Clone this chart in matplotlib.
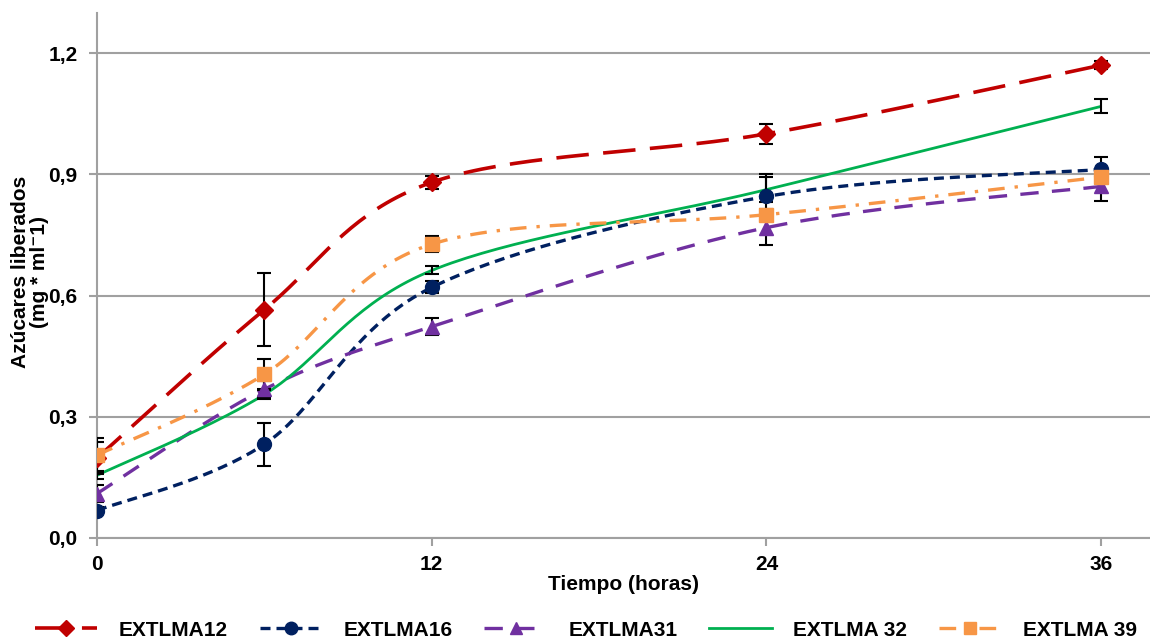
import numpy as np
import matplotlib
matplotlib.use("Agg")
import matplotlib.pyplot as plt
from matplotlib.lines import Line2D

plt.rcParams['font.family'] = ['Liberation Sans', 'DejaVu Sans']

hours = [0, 6, 12, 24, 36]
series_names = ["EXTLMA12", "EXTLMA16", "EXTLMA31", "EXTLMA 32", "EXTLMA 39"]
ext12 = [0.198, 0.565, 0.880, 1.000, 1.170]
ext16 = [0.068, 0.232, 0.620, 0.845, 0.912]
ext31 = [0.110, 0.368, 0.523, 0.768, 0.870]
ext32 = [0.155, 0.355, 0.662, 0.862, 1.068]
ext39 = [0.205, 0.405, 0.727, 0.800, 0.893]
err12 = [0.040, 0.090, 0.016, 0.024, 0.010]
err16 = [0.008, 0.053, 0.015, 0.055, 0.030]
err31 = [0.020, 0.020, 0.021, 0.042, 0.035]
err32 = [0.010, 0.010, 0.010, 0.030, 0.017]
err39 = [0.043, 0.037, 0.020, 0.015, 0.015]
x_ticks = [0, 12, 24, 36]
y_ticks = [0.0, 0.3, 0.6, 0.9, 1.2]
y_ticklabels = ["0,0", "0,3", "0,6", "0,9", "1,2"]

W, H = 1150, 642
fig = plt.figure(figsize=(W / 100, H / 100), dpi=100)
ax = fig.add_axes([97 / W, 1 - 538 / H, (W - 97) / W, (538 - 12.6) / H])
ax.set_xlim(0, 37.75)
ax.set_ylim(0, 1.3)

# pixel scale used for smoothing in screen-like space
sx, sy = 27.9, 404.2


def smooth(xs, ys, n=40):
    P = np.column_stack([np.asarray(xs, float) * sx, np.asarray(ys, float) * sy])
    out = []
    m = len(P)
    for i in range(m - 1):
        p0 = P[i - 1] if i > 0 else P[i]
        p1, p2 = P[i], P[i + 1]
        p3 = P[i + 2] if i + 2 < m else P[i + 1]
        c1 = p1 + (p2 - p0) / 6.0
        c2 = p2 - (p3 - p1) / 6.0
        t = np.linspace(0, 1, n)[:, None]
        seg = ((1 - t) ** 3) * p1 + 3 * ((1 - t) ** 2) * t * c1 + 3 * (1 - t) * t ** 2 * c2 + t ** 3 * p2
        out.append(seg if i == 0 else seg[1:])
    pts = np.vstack(out)
    return pts[:, 0] / sx, pts[:, 1] / sy


styles = [
    dict(color="#C00000", dashes=(9, 4), lw=2.6, marker="D", ms=9),
    dict(color="#002060", dashes=(3, 1.8), lw=2.4, marker="o", ms=10),
    dict(color="#7030A0", dashes=(5.5, 4), lw=2.4, marker="^", ms=10),
    dict(color="#00B050", dashes=None, lw=2.0, marker=None, ms=0),
    dict(color="#F79646", dashes=(5, 3, 1, 3), lw=2.4, marker="s", ms=10),
]
datas = [ext12, ext16, ext31, ext32, ext39]
errs = [err12, err16, err31, err32, err39]

ax.grid(axis="y", color="#A0A0A0", lw=1.5, zorder=0)
ax.set_axisbelow(True)

handles = []
for name, ys, es, st in zip(series_names, datas, errs, styles):
    xs_s, ys_s = smooth(hours, ys)
    ln, = ax.plot(xs_s, ys_s, color=st["color"], lw=st["lw"], zorder=3,
                  solid_capstyle="butt", dash_capstyle="butt")
    if st["dashes"] is not None:
        ln.set_dashes(st["dashes"])
    ax.errorbar(hours, ys, yerr=es, fmt="none", ecolor="black", elinewidth=1.5,
                capsize=5, capthick=1.5, zorder=4)
    if st["marker"]:
        ax.plot(hours, ys, ls="none", marker=st["marker"], ms=st["ms"],
                color=st["color"], mec=st["color"], zorder=5)
    h = Line2D([], [], color=st["color"], lw=st["lw"], marker=st["marker"],
               ms=st["ms"] * 0.9 if st["marker"] else 0)
    if st["dashes"] is not None:
        h.set_dashes(st["dashes"])
    handles.append(h)

for s in ["top", "right"]:
    ax.spines[s].set_visible(False)
for s in ["left", "bottom"]:
    ax.spines[s].set_color("#A0A0A0")
    ax.spines[s].set_linewidth(1.5)
ax.tick_params(axis="both", colors="#A0A0A0", width=1.5, length=6, labelcolor="black")
ax.set_xticks(x_ticks)
ax.set_xticklabels([str(v) for v in x_ticks], fontsize=15, fontweight="bold")
ax.set_yticks(y_ticks)
ax.set_yticklabels(y_ticklabels, fontsize=15, fontweight="bold")
ax.tick_params(axis="x", pad=6)
ax.tick_params(axis="y", pad=8)

ax.set_xlabel("Tiempo (horas)", fontsize=15, fontweight="bold", labelpad=1)
fig.text(0.026, (642 - 272) / H, "Azúcares liberados\n(mg * ml\u207b1)", rotation=90,
         fontsize=15, fontweight="bold", ha="center", va="center", linespacing=1.0)

fig.legend(handles, series_names, loc="center left", bbox_to_anchor=(16 / W, 1 - 630 / H),
           ncol=5, frameon=False, handlelength=3.0,
           handletextpad=1.05, columnspacing=1.5,
           prop=dict(weight="bold", size=15))

fig.savefig("out.png", dpi=100)
